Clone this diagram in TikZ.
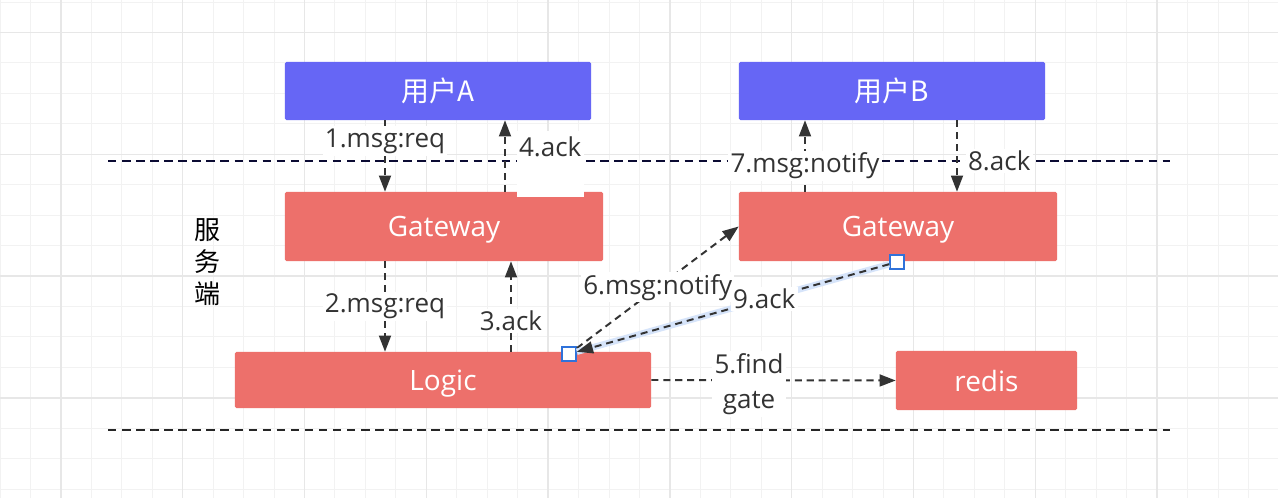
\documentclass[tikz,border=0pt]{standalone}
\usepackage{fontspec}
\setmainfont{Open Sans}
\newfontfamily\cjk{Noto Sans CJK SC}
\usetikzlibrary{arrows.meta}
\definecolor{userblue}{HTML}{6666F5}
\definecolor{boxred}{HTML}{ED706B}
\definecolor{inkgray}{HTML}{333333}
\definecolor{navyline}{HTML}{0B0B33}
\definecolor{gridminor}{HTML}{F2F2F2}
\definecolor{gridmajor}{HTML}{E7E7E7}
\definecolor{handleblue}{HTML}{2F72DA}
\definecolor{glowblue}{HTML}{D6E4FA}

\begin{document}
\begin{tikzpicture}[x=0.025cm,y=-0.025cm,
    userbox/.style={fill=userblue,text=white,rounded corners=1pt,minimum width=7.65cm,minimum height=1.45cm,font=\cjk\fontsize{19.9}{24}\selectfont},
    srvbox/.style={fill=boxred,text=white,rounded corners=1pt,text depth=0pt,font=\fontsize{19.9}{24}\selectfont},
    flow/.style={draw=inkgray,line width=1.4pt,dash pattern=on 5pt off 3.5pt,-{Triangle[length=11.5pt,width=8.5pt]}},
    msg/.style={fill=white,text=inkgray,inner sep=1.5pt,font=\fontsize{18.5}{25.5}\selectfont},
    divider/.style={line width=1.4pt,dash pattern=on 6pt off 4pt},
    handle/.style={draw=handleblue,fill=white,line width=1.2pt,minimum size=0.35cm,inner sep=0pt}]
\useasboundingbox[fill=white] (0,0) rectangle (1278,498);
\foreach \k in {0,...,41} \draw[gridminor,line width=0.7pt] ({30.45*\k},0) -- ({30.45*\k},498);
\foreach \k in {0,...,16} \draw[gridminor,line width=0.7pt] (0,{2+30.45*\k}) -- (1278,{2+30.45*\k});
\foreach \k in {0,...,9} \draw[gridmajor,line width=1pt] ({60.9+121.8*\k},0) -- ({60.9+121.8*\k},498);
\foreach \k in {0,...,3} \draw[gridmajor,line width=1pt] (0,{32.45+121.8*\k}) -- (1278,{32.45+121.8*\k});
\draw[divider,navyline] (108,161) -- (1170,161);
\draw[divider,black!85] (108,430) -- (1170,430);
\node[userbox] (userA) at (438,91) {用户A};
\node[userbox] (userB) at (892,91) {用户B};
\node[srvbox,minimum width=7.95cm,minimum height=1.725cm] (gwA) at (444,226.5) {Gateway};
\node[srvbox,minimum width=7.95cm,minimum height=1.725cm] (gwB) at (898,226.5) {Gateway};
\node[srvbox,minimum width=10.4cm,minimum height=1.4cm] (logic) at (443,380) {Logic};
\node[srvbox,minimum width=4.525cm,minimum height=1.475cm] (redis) at (986.5,380.5) {redis};
\node[font=\cjk\fontsize{18.5}{22.7}\selectfont,align=center] (side) at (208,262) {服\\务\\端};
\node[handle] (h1) at (569,354) {};
\node[handle] (h2) at (897,262) {};
\draw[flow] (userA.south -| 385,0) -- node[msg,pos=0.29]{1.msg:req} (gwA.north -| 385,0);
\draw[flow] (gwA.north -| 505,0) -- node[msg,pos=0.861,anchor=north west,xshift=0.275cm,text height=0.59cm,text depth=0.95cm]{4.ack} (userA.south -| 505,0);
\draw[flow] (gwA.south -| 385,0) -- node[msg,pos=0.5]{2.msg:req} (logic.north -| 385,0);
\draw[flow] (logic.north -| 511,0) -- node[msg,pos=0.34]{3.ack} (gwA.south -| 511,0);
\draw[flow] (logic.east) -- node[msg,pos=0.4,align=center,yshift=-0.1cm]{5.find\\gate} (redis.west);
\draw[flow] (h1) -- node[msg,pos=0.5]{6.msg:notify} (gwB.west);
\draw[glowblue,line width=4.5pt] (h2) -- (h1);
\draw[flow] (h2) -- node[msg,pos=0.4]{9.ack} (h1);
\draw[flow] (gwB.north -| 805,0) -- node[msg,pos=0.36]{7.msg:notify} (userB.south -| 805,0);
\draw[flow] (userB.south -| 957,0) -- node[msg,pos=0.57,anchor=west,xshift=0.2cm]{8.ack} (gwB.north -| 957,0);
\end{tikzpicture}
\end{document}
